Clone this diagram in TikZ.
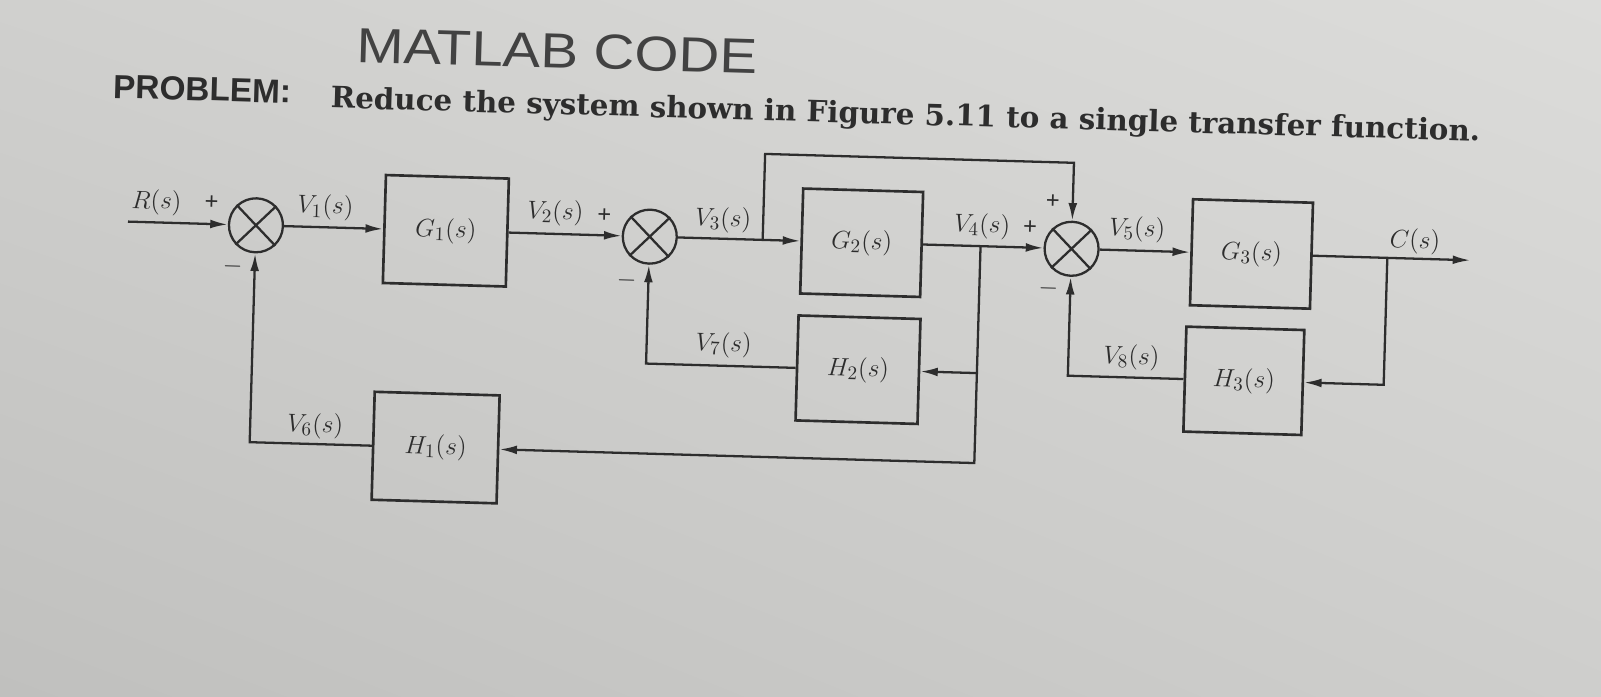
\documentclass[tikz,border=0pt]{standalone}
\usepackage{fontspec}
\setmainfont{Liberation Serif}
\newfontfamily\hsans{Liberation Sans}
\newfontfamily\tserif{DejaVu Serif}
\usetikzlibrary{arrows.meta,shadings}
\definecolor{ink}{RGB}{45,45,45}
\definecolor{pul}{RGB}{208,208,206}
\definecolor{pur}{RGB}{220,220,218}
\definecolor{pll}{RGB}{192,192,190}
\definecolor{plr}{RGB}{206,206,204}
\begin{document}
\begin{tikzpicture}[x=0.02cm,y=-0.02cm,
  ln/.style={draw=ink,line width=1.3pt},
  arr/.style={ln,-{Latex[length=10pt,width=5pt]}},
  blk/.style={draw=ink,line width=1.5pt,minimum width=2.4cm,minimum height=2.1cm,inner sep=0pt,font=\fontsize{15}{18}\selectfont,text=ink},
  sumj/.style={circle,draw=ink,line width=1.3pt,minimum size=1.08cm,inner sep=0pt},
  lbl/.style={font=\fontsize{15}{18}\selectfont,text=ink,inner sep=0pt},
  sgn/.style={font=\fontsize{14}{17}\selectfont\bfseries,text=ink,inner sep=0pt}]
\useasboundingbox (0,0) rectangle (1601,696);
\shade[upper left=pul,upper right=pur,lower left=pll,lower right=plr] (0,0) rectangle (1601,696);
\begin{scope}[rotate around={-1.65:(800,300)},transform shape]
% titles
\node[anchor=center,text=ink!90,inner sep=0pt,xscale=1.15] (hw) at (550,58) {\hsans\fontsize{28}{32}\selectfont MATLAB CODE};
\node[anchor=base west,text=ink,inner sep=0pt] (prob) at (107,118) {\hsans\bfseries\fontsize{19}{22}\selectfont PROBLEM:};
\node[anchor=base west,text=ink,inner sep=0pt] (task) at (325,121.5) {\tserif\bfseries\fontsize{16.7}{19}\selectfont Reduce the system shown in Figure 5.11 to a single transfer function.};
% blocks
\node[sumj] (s1) at (254,241) {};
\node[blk,minimum width=2.46cm,minimum height=2.16cm] (G1) at (444,241) {$G_1(s)$};
\node[sumj] (s2) at (648,241) {};
\node[blk] (G2) at (860,241) {$G_2(s)$};
\node[sumj] (s3) at (1070,241) {};
\node[blk,minimum height=2.12cm] (G3) at (1250,241) {$G_3(s)$};
\node[blk,minimum width=2.44cm] (H2) at (860,368) {$H_2(s)$};
\node[blk,minimum width=2.36cm] (H3) at (1246,368) {$H_3(s)$};
\node[blk,minimum width=2.5cm,minimum height=2.16cm] (H1) at (440,458) {$H_1(s)$};
\foreach \s in {s1,s2,s3}
  \draw[ln] (\s.north west) -- (\s.south east) (\s.north east) -- (\s.south west);
% coordinates
\coordinate (Rin) at (126,241);
\coordinate (b1) at (761,241);
\coordinate (t1) at (761,155);
\coordinate (b2) at (979,241);
\coordinate (b3) at (1386,241);
\coordinate (Cout) at (1469,241);
% forward path
\draw[arr] (Rin) -- (s1.west);
\draw[arr] (s1.east) -- (G1.west);
\draw[arr] (G1.east) -- (s2.west);
\draw[arr] (s2.east) -- (G2.west);
\draw[arr] (b1) -- (t1) -| (s3.north);
\draw[arr] (G2.east) -- (s3.west);
\draw[arr] (s3.east) -- (G3.west);
\draw[arr] (G3.east) -- (Cout);
% feedback
\draw[arr] (b3) |- (H3.east);
\draw[arr] (H3.west) -| (s3.south);
\draw[arr] (b2) |- (H1.east);
\draw[arr] (b2 |- H2.east) -- (H2.east);
\draw[arr] (H2.west) -| (s2.south);
\draw[arr] (H1.west) -| (s1.south);
% labels
\node[lbl] (lR) at (154,221) {$R(s)$};
\node[sgn] (p1) at (209,220) {+};
\node[sgn] (m1) at (232,283) {$-$};
\node[lbl] (lV1) at (323,221) {$V_1(s)$};
\node[lbl] (lV2) at (553,220) {$V_2(s)$};
\node[sgn] (p2) at (602,221) {+};
\node[sgn] (m2) at (626,285) {$-$};
\node[lbl] (lV3) at (721,222) {$V_3(s)$};
\node[lbl] (lV4) at (980,221) {$V_4(s)$};
\node[sgn] (p3) at (1028,221) {+};
\node[sgn] (p4) at (1050,195) {+};
\node[sgn] (m3) at (1048,281) {$-$};
\node[lbl] (lV5) at (1135,220) {$V_5(s)$};
\node[lbl] (lC) at (1413,224) {$C(s)$};
\node[lbl] (lV8) at (1133,348) {$V_8(s)$};
\node[lbl] (lV7) at (725,347) {$V_7(s)$};
\node[lbl] (lV6) at (319,440) {$V_6(s)$};
\end{scope}
\end{tikzpicture}
\end{document}
